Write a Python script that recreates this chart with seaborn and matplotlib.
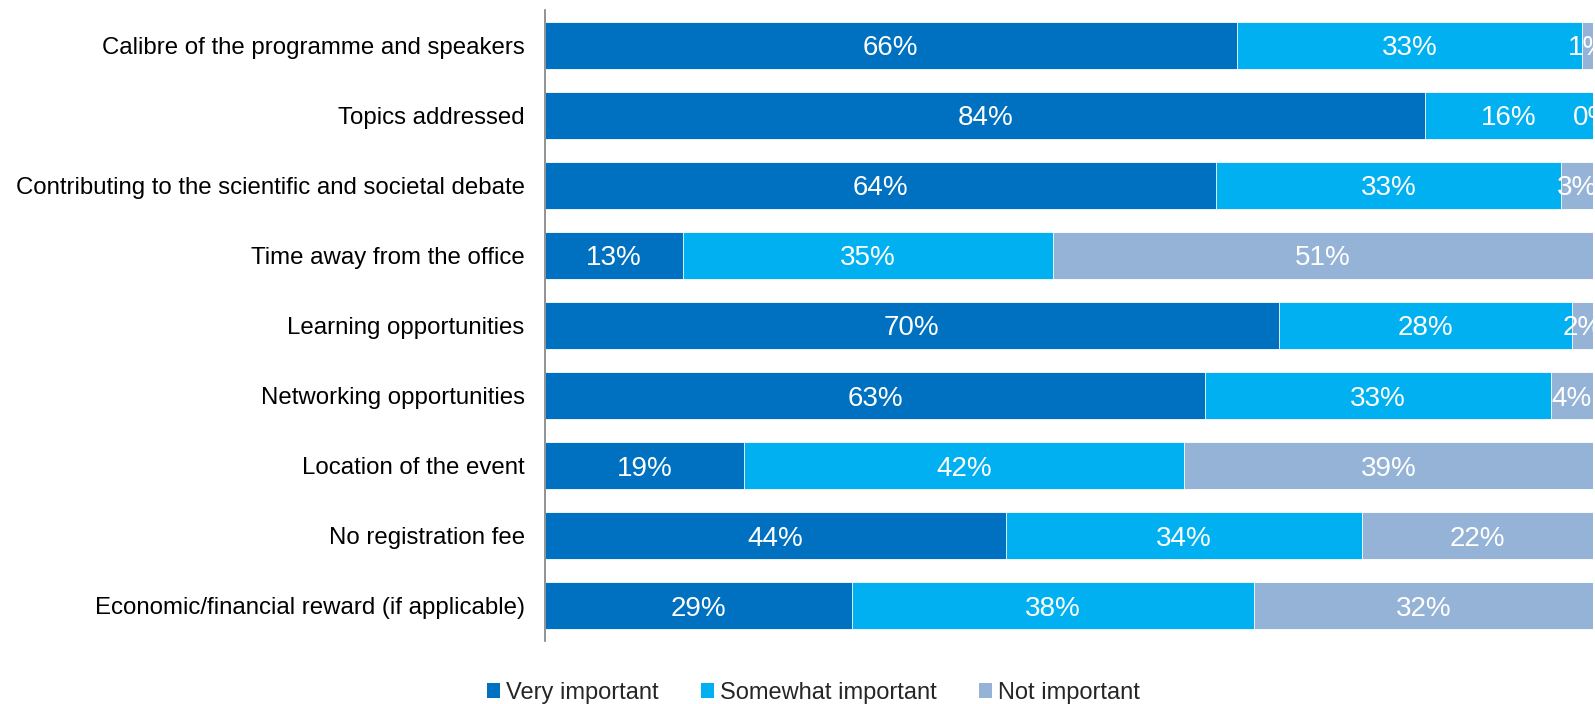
import numpy as np
import pandas as pd
import matplotlib
matplotlib.use("Agg")
import matplotlib.pyplot as plt
import seaborn as sns
from matplotlib.patches import Patch

categories = [
    "Calibre of the programme and speakers",
    "Topics addressed",
    "Contributing to the scientific and societal debate",
    "Time away from the office",
    "Learning opportunities",
    "Networking opportunities",
    "Location of the event",
    "No registration fee",
    "Economic/financial reward (if applicable)",
]
very_important = [66, 84, 64, 13, 70, 63, 19, 44, 29]
somewhat_important = [33, 16, 33, 35, 28, 33, 42, 34, 38]
not_important = [1, 0, 3, 51, 2, 4, 39, 22, 32]
series_names = ["Very important", "Somewhat important", "Not important"]
colors = ["#0070C0", "#00B0F0", "#95B3D7"]

sns.set_theme(style="white")
plt.rcParams["font.family"] = ["Liberation Sans", "DejaVu Sans"]

df = pd.DataFrame({
    "category": categories,
    "v": very_important,
    "s": somewhat_important,
    "n": not_important,
})
tot = df[["v", "s", "n"]].sum(axis=1)
df["vp"] = df["v"] / tot * 100
df["sp"] = df["s"] / tot * 100
df["np_"] = df["n"] / tot * 100
df["c1"] = df["vp"]
df["c2"] = df["vp"] + df["sp"]
df["c3"] = df["c2"] + df["np_"]

fig = plt.figure(figsize=(15.95, 7.04), dpi=100)
ax = fig.add_axes([0.3417, 0.0895, 0.6570, 0.8963])

for col, color in zip(["c3", "c2", "c1"], colors[::-1]):
    sns.barplot(data=df, y="category", x=col, orient="h", color=color,
                width=0.67, edgecolor="white", linewidth=0.6, ax=ax,
                saturation=1)

ax.set_xlim(0, 100)
ax.set_ylim(8.5, -0.5)
ax.set_xlabel("")
ax.set_ylabel("")
ax.set_xticks([])
for sp in ["top", "right", "bottom"]:
    ax.spines[sp].set_visible(False)
ax.spines["left"].set_color("#808080")
ax.spines["left"].set_linewidth(1.2)
ax.tick_params(axis="y", length=0, pad=14.6, labelsize=17.3, labelcolor="black")

for i in range(len(categories)):
    starts = [0, df["c1"][i], df["c2"][i]]
    widths = [df["vp"][i], df["sp"][i], df["np_"][i]]
    vals = [very_important[i], somewhat_important[i], not_important[i]]
    for st, w, val in zip(starts, widths, vals):
        ax.text(st + w / 2, i, f"{val}%", ha="center", va="center_baseline",
                color="white", fontsize=20, clip_on=False)

handles = [Patch(facecolor=c, edgecolor="none") for c in colors]
fig.legend(handles, series_names, loc="lower center", bbox_to_anchor=(0.51, -0.03),
           ncol=3, frameon=False, fontsize=17, handlelength=0.55, handleheight=0.55,
           handletextpad=0.25, columnspacing=1.8)

fig.savefig("out.png", dpi=100)
